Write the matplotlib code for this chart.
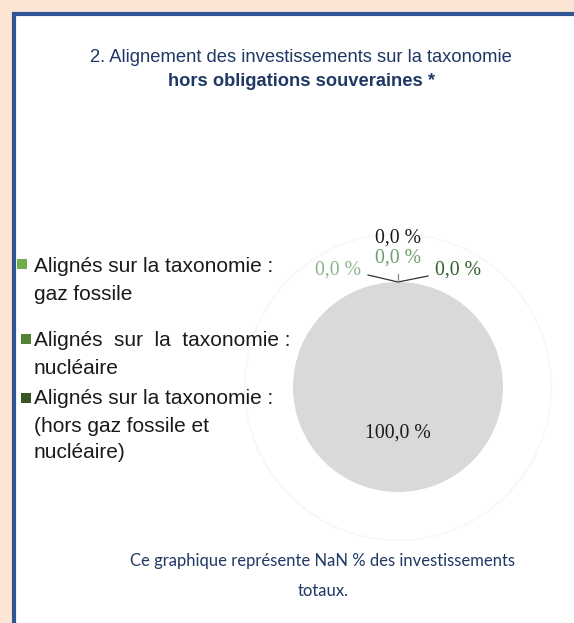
import matplotlib
matplotlib.use("Agg")
import matplotlib.pyplot as plt
from matplotlib.patches import Rectangle, Circle

# ---- data ----
title_line1 = "2. Alignement des investissements sur la taxonomie"
title_line2 = "hors obligations souveraines *"
categories = ["Alignés sur la taxonomie : gaz fossile",
              "Alignés sur la taxonomie : nucléaire",
              "Alignés sur la taxonomie : (hors gaz fossile et nucléaire)",
              "Autre",
              "Non alignés"]
values = [0.0, 0.0, 0.0, 0.0, 100.0]
slice_colors = ["#70ad47", "#538135", "#375623", "#1a1a1a", "#d9d9d9"]
value_labels = ["0,0 %", "0,0 %", "0,0 %", "0,0 %", "100,0 %"]
label_colors = ["#8cb58c", "#6e9e6e", "#2f5f2f", "#1a1a1a", "#1a1a1a"]
legend_texts = [["Alignés sur la taxonomie :", "gaz fossile"],
                ["Alignés  sur  la  taxonomie :", "nucléaire"],
                ["Alignés sur la taxonomie :", "(hors gaz fossile et", "nucléaire)"]]
legend_colors = ["#70ad47", "#538135", "#375623"]
footer_lines = ["Ce graphique représente NaN % des investissements", "totaux."]

W, H = 574, 623
fig = plt.figure(figsize=(W / 100, H / 100), dpi=100)
fig.patch.set_facecolor("#fde5d6")

# background box
bg = fig.add_axes([0, 0, 1, 1], zorder=-1)
bg.set_xlim(0, W)
bg.set_ylim(H, 0)
bg.axis("off")
bg.add_patch(Rectangle((14, 14), W, H, facecolor="white", edgecolor="#2f5597", lw=3.0))

# pie
cx, cy, r = 398, 387, 105
half = 165
ax = fig.add_axes([(cx - half) / W, (H - cy - half) / H, 2 * half / W, 2 * half / H], zorder=0)
ax.pie(values, colors=slice_colors, startangle=90, counterclock=False,
       radius=1.0, wedgeprops=dict(linewidth=0))
ax.add_patch(Circle((0, 0), 1.46, fill=False, edgecolor="#f7f7f7", lw=1.2))
ax.set_xlim(-half / r, half / r)
ax.set_ylim(-half / r, half / r)
ax.set_aspect("equal")
ax.axis("off")

# overlay in pixel coords
ov = fig.add_axes([0, 0, 1, 1], zorder=2)
ov.set_xlim(0, W)
ov.set_ylim(H, 0)
ov.axis("off")

navy = "#1f3864"
ov.text(301, 58, title_line1, ha="center", va="center", fontsize=13.2,
        family="Liberation Sans", color=navy)
ov.text(301, 82, title_line2, ha="center", va="center", fontsize=13.2,
        family="Liberation Sans", color=navy, fontweight="bold")

# legend
sq_x = [17, 21, 21]
sq_y = [259, 334, 393]
line_y0 = [267, 341, 399]
for i, lines in enumerate(legend_texts):
    ov.add_patch(Rectangle((sq_x[i], sq_y[i]), 10, 10, facecolor=legend_colors[i],
                           edgecolor="none", zorder=3))
    for j, t in enumerate(lines):
        ov.text(34, line_y0[i] + j * 27, t, ha="left", va="center", fontsize=15,
                family="Liberation Sans", color="#1a1a1a")

# footer
for j, t in enumerate(footer_lines):
    ov.text(323, 561 + j * 30, t, ha="center", va="center", fontsize=12,
            family="Lato", color=navy)

# value labels
lab_pos = [(338, 270), (398, 258), (458, 270), (398, 238), (398, 433)]
for (x, y), t, c in zip(lab_pos, value_labels, label_colors):
    ov.text(x, y, t, ha="center", va="center", fontsize=14.2,
            family="Liberation Serif", color=c, zorder=5)
# leader lines
ov.plot([368, 398, 428], [275, 282, 276], color="#333333", lw=0.9, zorder=4)
ov.plot([398, 398], [274, 282], color="#888888", lw=0.9, zorder=4)

fig.savefig("out.png", dpi=100, facecolor=fig.get_facecolor())
